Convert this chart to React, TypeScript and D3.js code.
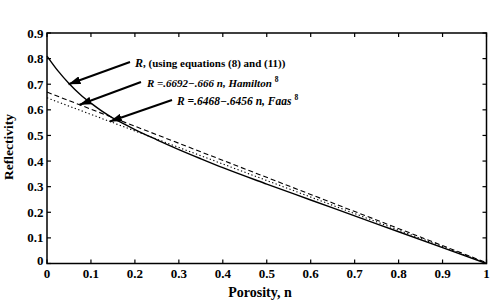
import React from "react";
import * as d3 from "d3";

// Reflectivity vs porosity
const porosity = [0, 0.025, 0.05, 0.075, 0.1, 0.125, 0.15, 0.175, 0.2, 0.25, 0.3, 0.35, 0.4, 0.5, 0.6, 0.7, 0.8, 0.9, 1.0];
const reflectivityModel = [0.81, 0.752, 0.703, 0.661, 0.626, 0.595, 0.568, 0.545, 0.523, 0.483, 0.445, 0.409, 0.374, 0.31, 0.248, 0.186, 0.124, 0.062, 0];

// Linear fits: R = a - b n
const hamiltonFit = { a: 0.6692, b: 0.666 };
const faasFit = { a: 0.6468, b: 0.6456 };

const xTicks = [0, 0.1, 0.2, 0.3, 0.4, 0.5, 0.6, 0.7, 0.8, 0.9, 1];
const xTickLabels = ["0", "0.1", "0.2", "0.3", "0.4", "0.5", "0.6", "0.7", "0.8", "0.9", "1"];
const yTicks = [0, 0.1, 0.2, 0.3, 0.4, 0.5, 0.6, 0.7, 0.8, 0.9];
const yTickLabels = ["0", "0.1", "0.2", "0.3", "0.4", "0.5", "0.6", "0.7", "0.8", "0.9"];

const W = 494;
const H = 302;
const L = 47, R = 486.5, T = 33, B = 263.5;
const FONT = "Liberation Serif";

export default function App() {
  const x = d3.scaleLinear().domain([0, 1]).range([L, R]);
  const y = d3.scaleLinear().domain([0, 0.9]).range([B, T]);

  const curve = d3
    .line<number>()
    .x((_, i) => x(porosity[i]))
    .y((d) => y(d))
    .curve(d3.curveMonotoneX);

  const fitLine = (f: { a: number; b: number }) =>
    d3
      .line<number>()
      .x((n) => x(n))
      .y((n) => y(f.a - f.b * n))([0, 1]) as string;

  const tick = 4;

  // annotation arrows: start near the label, tip on the line
  const arrows = [
    { x1: 130, y1: 62, n: 0.049, r: 0.70 },
    { x1: 141, y1: 82, n: 0.074, r: hamiltonFit.a - hamiltonFit.b * 0.074 },
    { x1: 172, y1: 100, n: 0.143, r: faasFit.a - faasFit.b * 0.143 },
  ];

  const textStyle = { fontFamily: FONT, fontWeight: 700 } as React.CSSProperties;

  return (
    <svg width={W} height={H} style={{ position: "absolute", left: 0, top: 0, background: "#fff" }}>
      <defs>
        <marker id="head" viewBox="0 0 12 8" refX="12" refY="4" markerWidth="12" markerHeight="8" markerUnits="userSpaceOnUse" orient="auto">
          <path d="M0,0 L12,4 L0,8 Z" fill="#000" />
        </marker>
      </defs>

      {/* data lines */}
      <path d={curve(reflectivityModel) as string} fill="none" stroke="#000" strokeWidth={1.4} />
      <path d={fitLine(hamiltonFit)} fill="none" stroke="#000" strokeWidth={1.1} strokeDasharray="5,3" />
      <path d={fitLine(faasFit)} fill="none" stroke="#000" strokeWidth={1.1} strokeDasharray="1.3,2.4" />

      {/* frame */}
      <rect x={L} y={T} width={R - L} height={B - T} fill="none" stroke="#000" strokeWidth={1.5} />

      {/* ticks on all sides */}
      {xTicks.map((t) => (
        <g key={"xt" + t}>
          <line x1={x(t)} x2={x(t)} y1={B} y2={B - tick} stroke="#000" strokeWidth={1.2} />
          <line x1={x(t)} x2={x(t)} y1={T} y2={T + tick} stroke="#000" strokeWidth={1.2} />
        </g>
      ))}
      {yTicks.map((t) => (
        <g key={"yt" + t}>
          <line x1={L} x2={L + tick} y1={y(t)} y2={y(t)} stroke="#000" strokeWidth={1.2} />
          <line x1={R} x2={R - tick} y1={y(t)} y2={y(t)} stroke="#000" strokeWidth={1.2} />
        </g>
      ))}

      {/* tick labels */}
      {xTicks.map((t, i) => (
        <text key={"xl" + t} x={x(t)} y={278} textAnchor="middle" style={textStyle} fontSize={13}>
          {xTickLabels[i]}
        </text>
      ))}
      {yTicks.map((t, i) => (
        <text key={"yl" + t} x={43.5} y={y(t) + (t === 0 ? 1 : 4.5)} textAnchor="end" style={textStyle} fontSize={13}>
          {yTickLabels[i]}
        </text>
      ))}

      {/* axis titles */}
      <text x={260} y={297} textAnchor="middle" style={textStyle} fontSize={14}>
        Porosity, n
      </text>
      <text transform="translate(13,147) rotate(-90)" textAnchor="middle" style={textStyle} fontSize={13.5}>
        Reflectivity
      </text>

      {/* annotations */}
      {arrows.map((a, i) => (
        <line key={"ar" + i} x1={a.x1} y1={a.y1} x2={x(a.n)} y2={y(a.r)} stroke="#000" strokeWidth={2} markerEnd="url(#head)" />
      ))}
      <text x={135} y={67} style={textStyle} fontSize={11}>
        <tspan fontStyle="italic" fontSize={12}>R</tspan>{", (using equations (8) and (11))"}
      </text>
      <text x={147} y={87} style={{ ...textStyle, fontStyle: "italic" }} fontSize={11}>
        {"R =.6692−.666 n, Hamilton"}
        <tspan fontSize={7.5} dx={3} dy={-5} fontStyle="normal">8</tspan>
      </text>
      <text x={177} y={105} style={{ ...textStyle, fontStyle: "italic" }} fontSize={11.5}>
        {"R =.6468−.6456 n, Faas"}
        <tspan fontSize={7.5} dx={3} dy={-5} fontStyle="normal">8</tspan>
      </text>
    </svg>
  );
}
